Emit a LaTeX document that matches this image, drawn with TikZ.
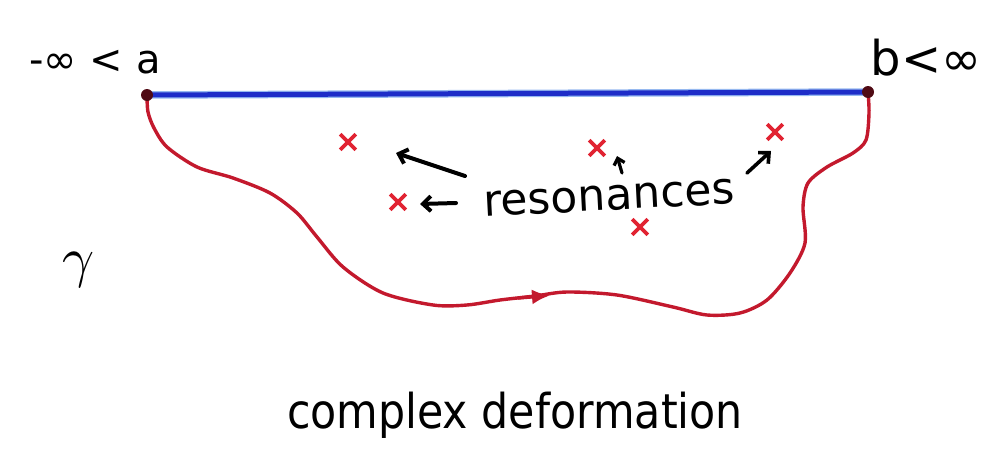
\documentclass[tikz,border=0pt]{standalone}
\usepackage{fontspec}
\setmainfont{DejaVu Sans}
\usetikzlibrary{arrows.meta,shapes.misc}
\definecolor{cblue}{RGB}{30,45,200}
\definecolor{lblue}{RGB}{150,185,240}
\definecolor{cred}{RGB}{195,25,45}
\definecolor{xred}{RGB}{225,35,50}
\definecolor{cdot}{RGB}{80,10,20}
\begin{document}
\begin{tikzpicture}[x=1pt,y=-1pt,
  res/.style={cross out, draw=xred, line width=3.6pt, minimum size=12pt, inner sep=0pt},
  hand/.style={-{Straight Barb[length=8pt,width=15pt]}, line width=4pt, black, line cap=round},
  lbl/.style={inner sep=0pt, text=black},
  contour/.style={cred, line width=3.4pt, line cap=round, line join=round}]
\useasboundingbox (0,0) rectangle (992,458);
% end points
\coordinate (a) at (147,95);
\coordinate (b) at (868,92);
% real segment
\draw[lblue, line width=7.5pt] (a) -- (b);
\draw[cblue, line width=5pt] (a) -- (b);
% contour
\draw[contour] plot[smooth, tension=0.5] coordinates {(a) (148,112) (154,128) (167,147) (197,167) (233,178) (270,193) (297,213) (317,237) (343,267) (383,293) (433,305) (467,305) (500,300) (535,296) (567,292) (617,295) (673,307) (707,315) (740,313) (767,300) (790,273) (805,243) (803,207) (808,183) (827,167) (853,153) (866,140) (869,113) (b)};
\coordinate (m1) at (518,298);
\coordinate (m2) at (550,295.5);
\draw[contour, -{Latex[length=18pt,width=15pt]}] (m1) -- (m2);
\fill[cdot] (a) circle (6pt);
\fill[cdot] (b) circle (6pt);
% labels
\node[lbl, font=\fontsize{40}{40}\selectfont] (la) at (95,62) {-∞ < a};
\node[lbl, font=\fontsize{48}{48}\selectfont] (lb) at (926,58) {b<∞};
\node[lbl] (g) at (79,270) {\scalebox{5.6}{$\gamma$}};
% resonances
\node[res] (c1) at (348,142) {};
\node[res] (c2) at (398,202) {};
\node[res] (c3) at (597,148) {};
\node[res] (c4) at (640,227) {};
\node[res] (c5) at (775,132) {};
\node[lbl, anchor=base, rotate=3, font=\fontsize{44}{44}\selectfont] (r) at (610,210) {resonances};
\node[lbl, anchor=base, font=\fontsize{48}{48}\selectfont] (cd) at (515,428) {\scalebox{0.89}[1]{complex deformation}};
% hand arrows
\coordinate (t1) at (465,176); \coordinate (h1) at (396,153);
\coordinate (t2) at (456,203); \coordinate (h2) at (420,204);
\coordinate (t3) at (622,173); \coordinate (h3) at (617,156);
\coordinate (t4) at (747,173); \coordinate (h4) at (771,151);
\draw[hand] (t1) -- (h1);
\draw[hand] (t2) -- (h2);
\draw[hand, line width=3.2pt, -{Straight Barb[length=6pt,width=11pt]}] (t3) -- (h3);
\draw[hand, line width=3.6pt] (t4) -- (h4);
\end{tikzpicture}
\end{document}
